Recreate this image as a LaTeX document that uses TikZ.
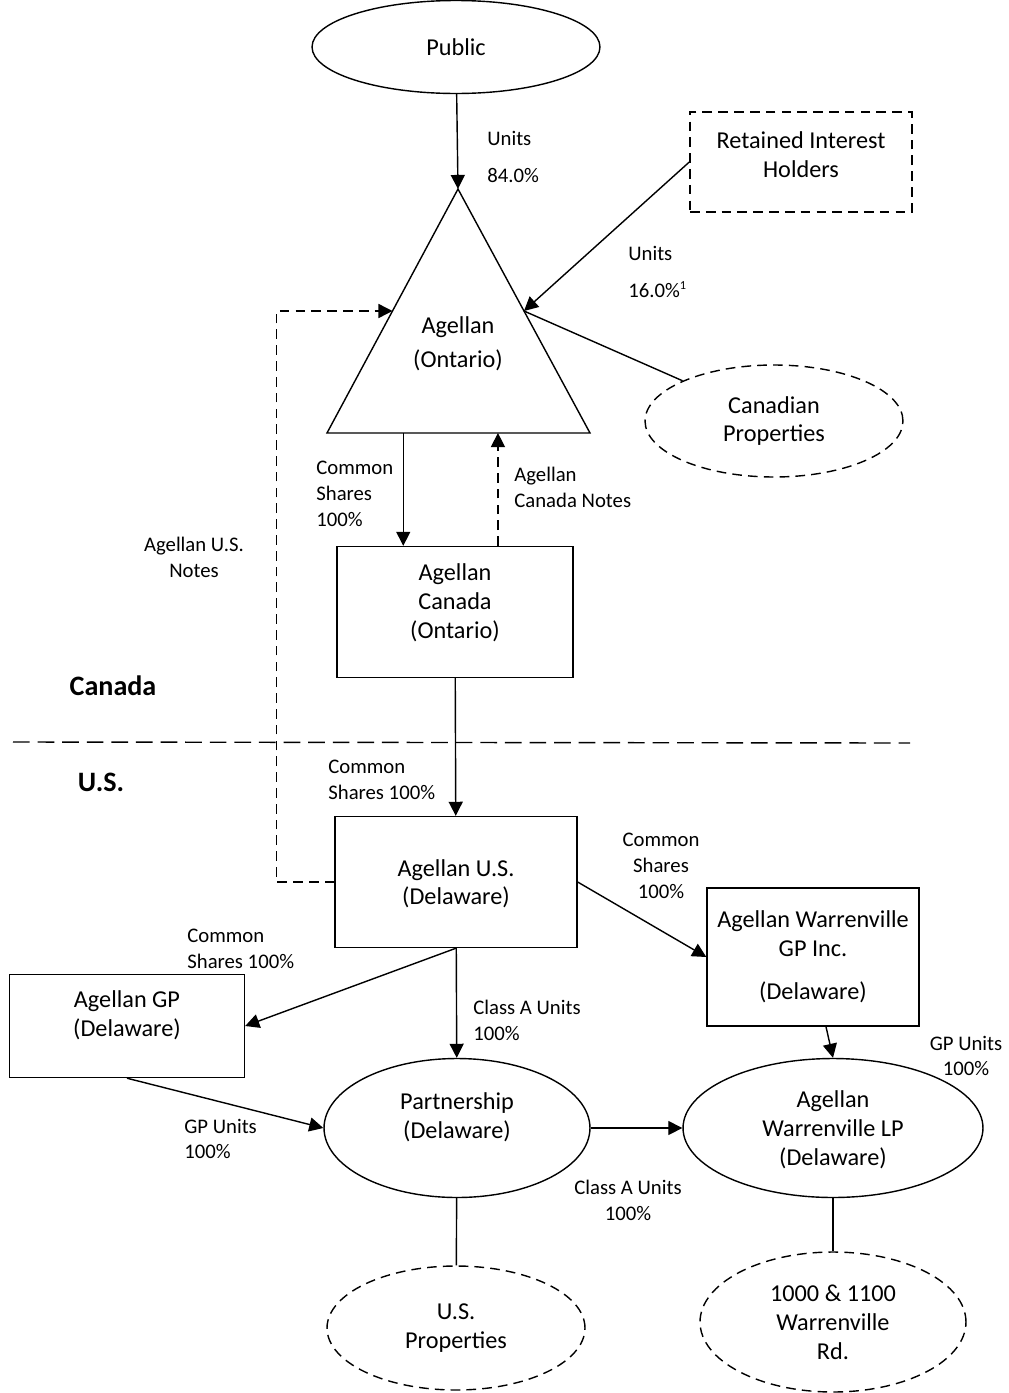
\documentclass[tikz,border=0pt]{standalone}
\usepackage{fontspec}
\setmainfont{Carlito}
\usetikzlibrary{positioning, shapes.geometric, arrows.meta, calc}
\tikzset{
  entity/.style={rectangle, draw=black, line width=0.8pt, align=center, inner sep=0pt, font=\fontsize{13.8}{16.4}\selectfont},
  party/.style={ellipse, draw=black, line width=0.8pt, align=center, inner sep=0pt, font=\fontsize{13.8}{16.4}\selectfont},
  asset/.style={party, dash pattern=on 5.5pt off 3.5pt},
  holder/.style={entity, dash pattern=on 5.5pt off 3.5pt},
  link/.style={line width=0.8pt},
  arrow/.style={link, -{Triangle[length=8pt, width=8pt]}},
  notes/.style={arrow, dash pattern=on 5.5pt off 3.5pt},
  lbl/.style={inner sep=0pt, align=left, font=\fontsize{11.8}{14.7}\selectfont},
  region/.style={inner sep=0pt, font=\fontsize{16}{19}\selectfont\bfseries},
}

\begin{document}
\begin{tikzpicture}[x=0.02cm, y=-0.02cm]
        \useasboundingbox (0,0) rectangle (1008,1393);

        % Top level
        \node[party, minimum width=5.76cm, minimum height=1.86cm] (public) at (456,47) {Public};
        \node[holder, minimum width=4.44cm, minimum height=2.0cm, text depth=8.5pt] (retained) at (801,162) {Retained Interest\\Holders};

        % Agellan (triangle)
        \coordinate (ag-top) at (458,189);
        \coordinate (ag-bl) at (327,433);
        \coordinate (ag-br) at (590,433);
        \draw[link] (ag-top) -- (ag-br) -- (ag-bl) -- cycle;
        \node[align=center, font=\fontsize{13.8}{16.4}\selectfont] (agellan) at (458,344) {Agellan\\[3pt](Ontario)};
        \coordinate (ag-l) at ($(ag-top)!0.5!(ag-bl)$);
        \coordinate (ag-r) at ($(ag-top)!0.5!(ag-br)$);
        \coordinate (ag-b1) at ($(ag-bl)!0.29!(ag-br)$);
        \coordinate (ag-b2) at ($(ag-bl)!0.65!(ag-br)$);

        \node[asset, minimum width=5.16cm, minimum height=2.24cm] (canprop) at (774,421) {Canadian\\Properties};

        % Canada
        \node[entity, minimum width=4.72cm, minimum height=2.62cm, text depth=12.5pt] (agcan) at (455,612) {Agellan\\Canada\\(Ontario)};

        % U.S.
        \node[entity, minimum width=4.84cm, minimum height=2.62cm, text depth=-2pt] (agus) at (456,882) {Agellan U.S.\\(Delaware)};
        \node[entity, minimum width=4.24cm, minimum height=2.76cm] (wgp) at (813,957) {Agellan Warrenville\\GP Inc.\\[8pt](Delaware)};
        \node[entity, minimum width=4.7cm, minimum height=2.06cm, text depth=13.7pt] (agp) at (127,1026) {Agellan GP\\(Delaware)};
        \node[party, minimum width=5.32cm, minimum height=2.78cm, text depth=13.7pt] (part) at (457,1128) {Partnership\\(Delaware)};
        \node[party, minimum width=6.0cm, minimum height=2.78cm, text depth=-4.5pt] (wlp) at (833,1128) {Agellan\\Warrenville LP\\(Delaware)};
        \node[asset, minimum width=5.16cm, minimum height=2.48cm] (usprop) at (456,1328) {U.S.\\Properties};
        \node[asset, minimum width=5.32cm, minimum height=2.8cm] (rdprop) at (833,1322) {1000 \& 1100\\Warrenville\\Rd.};

        % Border
        \coordinate (div-l) at (13,742);
        \coordinate (div-r) at (910,743);
        \draw[link, dash pattern=on 9.5pt off 4.5pt] (div-l) -- (div-r);
        \node[region] (canada) at (113,686) {Canada};
        \node[region] (us) at (101,782) {U.S.};

        % Connections
        \draw[arrow] (public) -- (ag-top);
        \draw[arrow] (retained.west) -- (ag-r);
        \draw[link] (ag-r) -- (canprop);
        \draw[arrow] (ag-b1) -- (ag-b1 |- agcan.north);
        \draw[notes] (ag-b2 |- agcan.north) -- (ag-b2);
        \draw[notes] (agus.west) -- ++(-58,0) |- (ag-l);
        \draw[arrow] (agcan) -- (agus);
        \draw[arrow] (agus.east) -- (wgp.west);
        \draw[arrow] (agus.south) -- (agp.east);
        \draw[arrow] (agus) -- (part);
        \draw[arrow] ([xshift=0.26cm]wgp.south) -- (wlp.north);
        \draw[arrow] (agp.south) -- (part.west);
        \draw[arrow] (part) -- (wlp);
        \draw[link] (part) -- (usprop);
        \draw[link] (wlp) -- (rdprop);

        % Labels
        \node[lbl, anchor=west] (l-pub) at (487,157) {Units\\[6pt]84.0\%};
        \node[lbl, anchor=west] (l-ret) at (628,272) {Units\\[6pt]16.0\%\textsuperscript{\scriptsize 1}};
        \node[lbl, anchor=west] (l-can) at (316,494) {Common\\Shares\\100\%};
        \node[lbl, anchor=west] (l-cnotes) at (514,487) {Agellan\\Canada Notes};
        \node[lbl, align=center] (l-usnotes) at (194,557) {Agellan U.S.\\Notes};
        \node[lbl, anchor=west] (l-us) at (328,780) {Common\\Shares 100\%};
        \node[lbl, align=center] (l-wgp) at (661,866) {Common\\Shares\\100\%};
        \node[lbl, align=center] (l-wlp) at (966,1056) {GP Units\\100\%};
        \node[lbl, anchor=west] (l-agp) at (187,949) {Common\\Shares 100\%};
        \node[lbl, anchor=west] (l-part) at (473,1020) {Class A Units\\100\%};
        \node[lbl, anchor=west] (l-gpu) at (184,1139) {GP Units\\100\%};
        \node[lbl, align=center] (l-cla) at (628,1200) {Class A Units\\100\%};
\end{tikzpicture}
\end{document}
